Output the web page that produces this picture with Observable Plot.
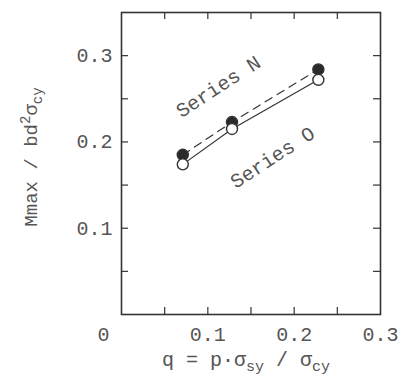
<!DOCTYPE html>
<html><head><meta charset="utf-8">
<script src="https://cdn.jsdelivr.net/npm/d3@7"></script>
<script src="https://cdn.jsdelivr.net/npm/@observablehq/plot@0.6"></script>
<style>
html,body{margin:0;padding:0;background:#fff;}
</style>
</head><body><div id="chart"></div>
<script>
const qValues = [0.071, 0.128, 0.228];
const seriesN = [0.185, 0.223, 0.284];
const seriesO = [0.174, 0.215, 0.272];
const xTickLabels = [0.1, 0.2, 0.3];
const yTickLabels = [0.1, 0.2, 0.3];
const xMinorTicks = [0.05, 0.1, 0.15, 0.2, 0.25];
const yMinorTicks = [0.05, 0.1, 0.15, 0.2, 0.25, 0.3];
const seriesLabels = [
  {name: "Series N", q: 0.112, m: 0.264},
  {name: "Series O", q: 0.175, m: 0.182}
];

const dataN = qValues.map((q, i) => ({q, m: seriesN[i]}));
const dataO = qValues.map((q, i) => ({q, m: seriesO[i]}));

const W = 404, H = 392, mL = 121, mR = 24, mT = 12, mB = 78;
const plotH = H - mT - mB, plotW = W - mL - mR;
const tk = 7;
const ink = "#333";
const txt = "#555";
const font = "Liberation Mono, DejaVu Sans Mono, monospace";
const fs = 20, fsSub = 15;

const chart = Plot.plot({
  width: W, height: H,
  marginLeft: mL, marginRight: mR, marginTop: mT, marginBottom: mB,
  style: {fontFamily: font, fontSize: fs + "px", color: txt, background: "#fff"},
  x: {domain: [0, 0.3]},
  y: {domain: [0, 0.35]},
  marks: [
    Plot.frame({stroke: ink, strokeWidth: 1.6}),
    Plot.ruleX(xMinorTicks, {stroke: ink, strokeWidth: 1.2, insetTop: plotH - tk}),
    Plot.ruleX(xMinorTicks, {stroke: ink, strokeWidth: 1.2, insetBottom: plotH - tk}),
    Plot.ruleY(yMinorTicks, {stroke: ink, strokeWidth: 1.2, insetRight: plotW - tk}),
    Plot.ruleY(yMinorTicks, {stroke: ink, strokeWidth: 1.2, insetLeft: plotW - tk}),
    Plot.axisX(xTickLabels, {tickSize: 0, tickPadding: 12, tickFormat: d => d.toFixed(1), fill: txt, fontSize: fs, label: null}),
    Plot.text([0], {x: d => d, y: d => d, text: ["0"], dx: -18, dy: 20, fill: txt, fontSize: fs}),
    Plot.axisY(yTickLabels, {tickSize: 0, tickPadding: 9, tickFormat: d => d.toFixed(1), fill: txt, fontSize: fs, label: null}),
    Plot.line(dataN, {x: "q", y: "m", stroke: ink, strokeWidth: 1.2, strokeDasharray: "8,6"}),
    Plot.line(dataO, {x: "q", y: "m", stroke: ink, strokeWidth: 1.2}),
    Plot.dot(dataN, {x: "q", y: "m", r: 5.5, fill: "#2a2a2a", stroke: ink}),
    Plot.dot(dataO, {x: "q", y: "m", r: 5.5, fill: "#fff", stroke: ink, strokeWidth: 1.4}),
    Plot.text(seriesLabels, {x: "q", y: "m", text: "name", rotate: -33, fill: txt, fontSize: fs})
  ]
});

const svg = d3.select(chart);
// x axis label
const xl = svg.append("text")
  .attr("x", 246).attr("y", 366)
  .attr("text-anchor", "middle")
  .attr("fill", txt).style("font-family", font).style("font-size", fs + "px");
xl.append("tspan").text("q = p·σ");
xl.append("tspan").attr("dy", 5).style("font-size", fsSub + "px").text("sy");
xl.append("tspan").attr("dy", -5).text(" / σ");
xl.append("tspan").attr("dy", 5).style("font-size", fsSub + "px").text("cy");

// y axis label
const yl = svg.append("text")
  .attr("transform", "translate(37,157) rotate(-90)")
  .attr("text-anchor", "middle")
  .attr("fill", txt).style("font-family", font).style("font-size", "19px");
yl.append("tspan").text("Mmax / bd");
yl.append("tspan").attr("dy", -7).style("font-size", "14px").text("2");
yl.append("tspan").attr("dy", 7).text("σ");
yl.append("tspan").attr("dy", 5).style("font-size", "14px").text("cy");

document.getElementById("chart").appendChild(chart);
</script>
</body></html>
